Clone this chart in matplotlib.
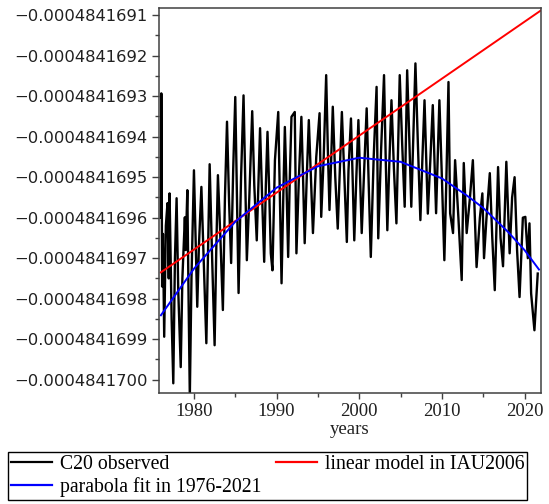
import matplotlib
matplotlib.use("Agg")
import matplotlib.pyplot as plt
from matplotlib.ticker import MultipleLocator, FuncFormatter

# === Data (values in units of 1e-10) ===
c20_years = [
    1976.00, 1976.05, 1976.15, 1976.25, 1976.40, 1976.60, 1976.80, 1976.95, 1977.05, 1977.30,
    1977.50, 1977.70, 1977.90, 1978.10, 1978.40, 1978.60, 1978.90, 1979.00, 1979.20, 1979.35,
    1979.50, 1979.70, 1980.00, 1980.20, 1980.40, 1980.60, 1980.90, 1981.20, 1981.50, 1981.70,
    1981.90, 1982.20, 1982.50, 1982.70, 1982.90, 1983.20, 1983.50, 1983.75, 1984.00, 1984.25,
    1984.50, 1984.75, 1985.00, 1985.20, 1985.40, 1985.70, 1986.00, 1986.20, 1986.40, 1986.70,
    1987.05, 1987.30, 1987.60, 1988.00, 1988.25, 1988.50, 1988.70, 1988.90, 1989.10, 1989.30,
    1989.50, 1989.80, 1990.20, 1990.40, 1990.60, 1990.80, 1991.00, 1991.20, 1991.40, 1991.60,
    1991.80, 1992.20, 1992.40, 1992.70, 1993.00, 1993.20, 1993.40, 1993.65, 1993.90, 1994.15,
    1994.40, 1994.80, 1995.20, 1995.40, 1995.70, 1996.00, 1996.20, 1996.40, 1996.60, 1996.80,
    1997.10, 1997.40, 1997.65, 1997.90, 1998.20, 1998.50, 1998.70, 1999.00, 1999.20, 1999.40,
    1999.65, 1999.90, 2000.10, 2000.30, 2000.60, 2000.90, 2001.15, 2001.40, 2001.75, 2002.10,
    2002.30, 2002.65, 2003.00, 2003.20, 2003.40, 2003.65, 2003.90, 2004.20, 2004.50, 2004.70,
    2004.90, 2005.20, 2005.50, 2005.80, 2006.05, 2006.30, 2006.55, 2006.80, 2007.10, 2007.40,
    2007.65, 2007.90, 2008.10, 2008.30, 2008.60, 2008.90, 2009.10, 2009.30, 2009.50, 2009.70,
    2010.00, 2010.30, 2010.55, 2010.80, 2011.00, 2011.35, 2011.60, 2012.00, 2012.40, 2012.65,
    2013.00, 2013.40, 2013.75, 2014.20, 2014.60, 2014.90, 2015.10, 2015.40, 2015.80, 2016.10,
    2016.40, 2016.80, 2017.10, 2017.40, 2017.80, 2018.20, 2018.50, 2018.80, 2019.10, 2019.40,
    2019.80, 2020.10, 2020.40, 2020.60, 2020.80, 2021.20, 2021.60,
]
c20_vals = [
    -4841696.00, -4841692.93, -4841697.70, -4841696.40, -4841698.94, -4841696.20, -4841695.64, -4841697.50, -4841695.40, -4841698.50,
    -4841700.09, -4841697.00, -4841695.52, -4841697.80, -4841699.69, -4841697.50, -4841695.99, -4841696.80, -4841695.32, -4841698.00,
    -4841700.43, -4841697.50, -4841694.83, -4841696.50, -4841698.20, -4841696.70, -4841695.24, -4841697.20, -4841699.10, -4841696.90,
    -4841694.68, -4841697.00, -4841699.15, -4841696.80, -4841694.95, -4841696.50, -4841698.28, -4841695.50, -4841693.63, -4841695.60,
    -4841697.12, -4841694.80, -4841693.02, -4841695.50, -4841697.86, -4841695.00, -4841692.98, -4841695.00, -4841697.05, -4841695.50,
    -4841693.37, -4841695.20, -4841696.56, -4841693.79, -4841695.50, -4841697.09, -4841695.20, -4841693.88, -4841695.30, -4841696.88,
    -4841697.30, -4841694.58, -4841693.39, -4841695.50, -4841697.62, -4841695.60, -4841693.76, -4841695.20, -4841696.97, -4841695.00,
    -4841693.51, -4841693.39, -4841696.88, -4841695.00, -4841693.51, -4841695.00, -4841696.63, -4841695.00, -4841693.59, -4841695.00,
    -4841696.38, -4841694.50, -4841693.42, -4841695.98, -4841694.50, -4841692.48, -4841694.30, -4841695.81, -4841694.60, -4841693.26,
    -4841695.00, -4841696.27, -4841694.80, -4841693.39, -4841695.00, -4841696.60, -4841694.83, -4841693.55, -4841695.00, -4841696.56,
    -4841695.00, -4841693.59, -4841695.00, -4841696.38, -4841694.80, -4841693.30, -4841695.20, -4841696.97, -4841694.50, -4841692.77,
    -4841696.51, -4841694.30, -4841692.48, -4841694.50, -4841696.31, -4841694.60, -4841693.10, -4841694.80, -4841696.14, -4841694.30,
    -4841692.48, -4841694.20, -4841695.73, -4841692.36, -4841694.00, -4841695.73, -4841694.00, -4841692.19, -4841694.20, -4841696.06,
    -4841694.50, -4841693.10, -4841694.50, -4841695.90, -4841694.60, -4841693.22, -4841694.60, -4841695.89, -4841694.50, -4841693.10,
    -4841695.00, -4841697.05, -4841695.00, -4841692.65, -4841695.89, -4841696.38, -4841694.58, -4841696.00, -4841697.54, -4841694.65,
    -4841696.38, -4841695.50, -4841694.58, -4841697.22, -4841696.00, -4841695.40, -4841697.00, -4841696.00, -4841694.90, -4841696.50,
    -4841697.79, -4841694.75, -4841696.50, -4841697.20, -4841694.62, -4841696.88, -4841695.50, -4841695.00, -4841696.80, -4841697.96,
    -4841696.00, -4841695.98, -4841697.00, -4841696.14, -4841697.87, -4841698.78, -4841697.38,
]

lin_years = [1976.0, 2022.0]
lin_vals = [-4841697.35, -4841690.88]

par_years = [1976.0, 1980.0, 1985.0, 1990.0, 1995.0, 2000.0, 2005.0, 2010.0, 2013.0, 2015.0, 2018.0, 2020.0, 2021.75]
par_vals = [-4841698.41, -4841697.26, -4841696.10, -4841695.26, -4841694.73, -4841694.52, -4841694.62,
            -4841695.03, -4841695.45, -4841695.76, -4841696.35, -4841696.80, -4841697.28]

# === Figure ===
fig = plt.figure(figsize=(5.49, 5.04), dpi=100)
ax = fig.add_axes([0.2893, 0.2202, 0.6962, 0.7649])

ax.plot(c20_years, c20_vals, color="black", lw=1.7, label="C20 observed")
ax.plot(lin_years, lin_vals, color="red", lw=1.4, label="linear model in IAU2006")
ax.plot(par_years, par_vals, color="blue", lw=1.4, label="parabola fit in 1976-2021")

ax.set_xlim(1975.75, 2022.0)
ax.set_ylim(-4841700.33, -4841690.81)

ax.xaxis.set_major_locator(MultipleLocator(10))
ax.xaxis.set_minor_locator(MultipleLocator(5))
ax.yaxis.set_major_locator(MultipleLocator(1))
ax.yaxis.set_minor_locator(MultipleLocator(0.5))
ax.yaxis.set_major_formatter(FuncFormatter(lambda v, p: f"{v * 1e-10:.10f}".replace("-", "\u2212")))

for s in ax.spines.values():
    s.set_color("#404040")
    s.set_linewidth(1.1)

ax.tick_params(axis="both", which="both", direction="out", color="#404040", top=False, right=False)
ax.tick_params(axis="y", which="major", length=5, width=1, pad=3)
ax.tick_params(axis="y", which="minor", length=3, width=1)
ax.tick_params(axis="x", which="major", length=4, width=1, pad=3)
ax.tick_params(axis="x", which="minor", length=3, width=1)

for lab in ax.get_yticklabels():
    lab.set_fontfamily("DejaVu Sans")
    lab.set_fontsize(11.8)
    lab.set_color("#202020")
for lab in ax.get_xticklabels():
    lab.set_fontfamily("Liberation Serif")
    lab.set_fontsize(13.5)
    lab.set_color("#202020")

ax.set_xlabel("years", fontfamily="Liberation Serif", fontsize=13.5, labelpad=1, color="#202020")

# legend below the plot, two columns
handles, labels = ax.get_legend_handles_labels()
order = [0, 2, 1]
leg = fig.legend([handles[i] for i in order], [labels[i] for i in order],
                 loc="lower left", bbox_to_anchor=(0.0146, 0.008), ncol=2,
                 prop={"family": "Liberation Serif", "size": 14.2},
                 frameon=True, fancybox=False, edgecolor="black", framealpha=1,
                 borderpad=0.15, labelspacing=0.15, handlelength=2.1, handletextpad=0.4,
                 columnspacing=0.7, borderaxespad=0)
leg.get_frame().set_linewidth(1.0)
for h in leg.legend_handles:
    h.set_linewidth(1.6)

fig.savefig("out.png", dpi=100)
